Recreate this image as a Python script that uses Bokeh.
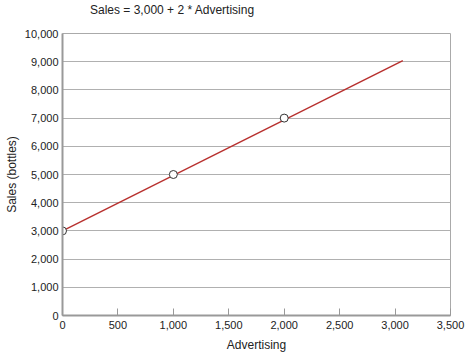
from bokeh.plotting import figure
from bokeh.models import FixedTicker, NumeralTickFormatter, Range1d, Div
from bokeh.layouts import column
from bokeh.embed import file_html
from bokeh.resources import INLINE

# Data
advertising_pts = [0, 1000, 2000]
sales_pts = [3000, 5000, 7000]
line_x = [0, 3070]
line_y = [3000, 9040]
x_ticks = [0, 500, 1000, 1500, 2000, 2500, 3000, 3500]
y_ticks = [0, 1000, 2000, 3000, 4000, 5000, 6000, 7000, 8000, 9000, 10000]
title_text = "Sales = 3,000 + 2 * Advertising"

FONT = "Liberation Sans Narrow, Arial Narrow, Liberation Sans, sans-serif"

header = Div(text=title_text, width=469, height=20, margin=(0, 0, 0, 0),
             styles={"font-family": FONT, "font-size": "12px", "color": "#222222",
                     "padding-left": "90px", "padding-top": "3px",
                     "line-height": "14px"})

p = figure(width=469, height=337, output_backend="svg", toolbar_location=None,
           x_range=Range1d(0, 3500), y_range=Range1d(0, 10000),
           min_border_left=62, min_border_right=19, min_border_top=13, min_border_bottom=42,
           margin=(0, 0, 0, 0))

p.outline_line_color = "#aaaaaa"
p.outline_line_width = 1
p.xgrid.grid_line_color = None
p.ygrid.grid_line_color = "#b0b0b0"
p.ygrid.grid_line_width = 1
p.ygrid.ticker = FixedTicker(ticks=y_ticks)

p.xaxis.ticker = FixedTicker(ticks=x_ticks)
p.yaxis.ticker = FixedTicker(ticks=y_ticks)
p.xaxis.formatter = NumeralTickFormatter(format="0,0")
p.yaxis.formatter = NumeralTickFormatter(format="0,0")

for ax in (p.xaxis, p.yaxis):
    ax.axis_line_color = "#999999"
    ax.axis_line_width = 2
    ax.major_label_text_font = FONT
    ax.major_label_text_font_size = "11px"
    ax.major_label_text_color = "#222222"
    ax.minor_tick_line_color = None
    ax.axis_label_text_font = FONT
    ax.axis_label_text_font_size = "12px"
    ax.axis_label_text_font_style = "normal"
    ax.axis_label_text_color = "#222222"

p.xaxis.major_tick_in = 7
p.xaxis.major_tick_out = 0
p.xaxis.major_tick_line_color = "#999999"
p.xaxis.major_label_standoff = 5
p.xaxis.axis_label = "Advertising"
p.xaxis.axis_label_standoff = 6

p.yaxis.major_tick_in = 0
p.yaxis.major_tick_out = 0
p.yaxis.major_tick_line_color = None
p.yaxis.major_label_standoff = 4
p.yaxis.axis_label = "Sales (bottles)"
p.yaxis.axis_label_standoff = 3

p.line(line_x, line_y, line_color="#b8312f", line_width=1.5)
p.scatter(advertising_pts, sales_pts, size=8, fill_color="white",
          line_color="#333333", line_width=1)

layout = column(header, p, spacing=0, margin=(0, 0, 0, 0))
open("out.html", "w").write(file_html(layout, INLINE))
